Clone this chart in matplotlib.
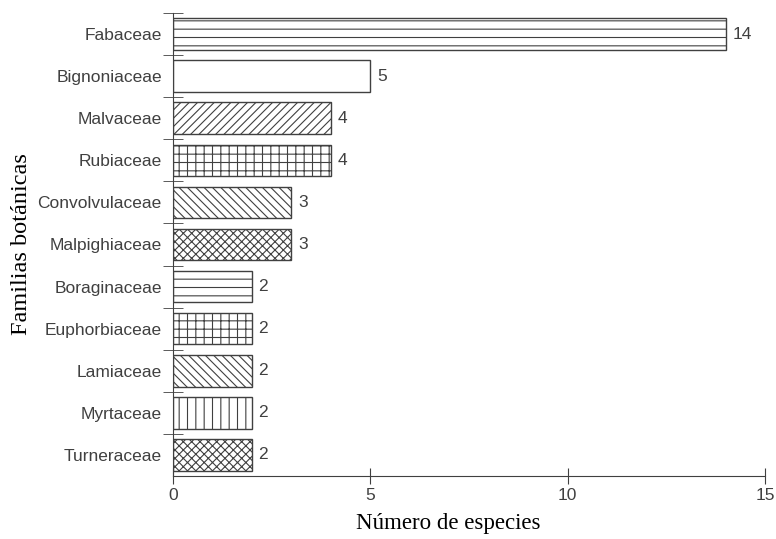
import numpy as np
import matplotlib.pyplot as plt

# data, top to bottom
familias = ["Fabaceae", "Bignoniaceae", "Malvaceae", "Rubiaceae", "Convolvulaceae",
            "Malpighiaceae", "Boraginaceae", "Euphorbiaceae", "Lamiaceae",
            "Myrtaceae", "Turneraceae"]
especies = [14, 5, 4, 4, 3, 3, 2, 2, 2, 2, 2]
tramas = ["--", "", "////", "++", "\\\\\\\\", "xxxx", "--", "++", "\\\\\\\\", "||", "xxxx"]

gris = "#404040"
plt.rcParams["hatch.color"] = gris
plt.rcParams["hatch.linewidth"] = 0.8

fig = plt.figure(figsize=(7.76, 5.39), dpi=100)
ax = fig.add_axes([0.2229, 0.1169, 0.7629, 0.8590])

pos = np.arange(len(familias))
for i in range(len(familias)):
    ax.barh(pos[i], especies[i], height=0.75, color="white", edgecolor=gris,
            linewidth=1.0, hatch=tramas[i])
    ax.text(especies[i] + 0.17, pos[i], str(especies[i]), va="center", ha="left",
            fontsize=12.5, color=gris, family="Liberation Sans")

ax.set_xlim(0, 15)
ax.set_ylim(len(familias) - 0.5, -0.5)
ax.set_xticks([0, 5, 10, 15])
ax.set_yticks(pos)
ax.set_yticklabels(familias)
ax.set_yticks(np.arange(-0.5, len(familias) - 0.5, 1), minor=True)

for lbl in ax.get_xticklabels() + ax.get_yticklabels():
    lbl.set_family("Liberation Sans")
    lbl.set_fontsize(12.5)
    lbl.set_color(gris)

ax.tick_params(axis="y", which="major", length=0, pad=8)
ax.tick_params(axis="y", which="minor", length=14, direction="inout", color=gris)
ax.tick_params(axis="x", length=12, direction="inout", color=gris, pad=3)

ax.spines["top"].set_visible(False)
ax.spines["right"].set_visible(False)
ax.spines["left"].set_color(gris)
ax.spines["bottom"].set_color(gris)

ax.set_xlabel("Número de especies", family="Liberation Serif", fontsize=16.5)
ax.xaxis.set_label_coords(0.4645, -0.08)
ax.set_ylabel("Familias botánicas", family="Liberation Serif", fontsize=17.5, labelpad=4)

fig.savefig("out.png", dpi=100)
